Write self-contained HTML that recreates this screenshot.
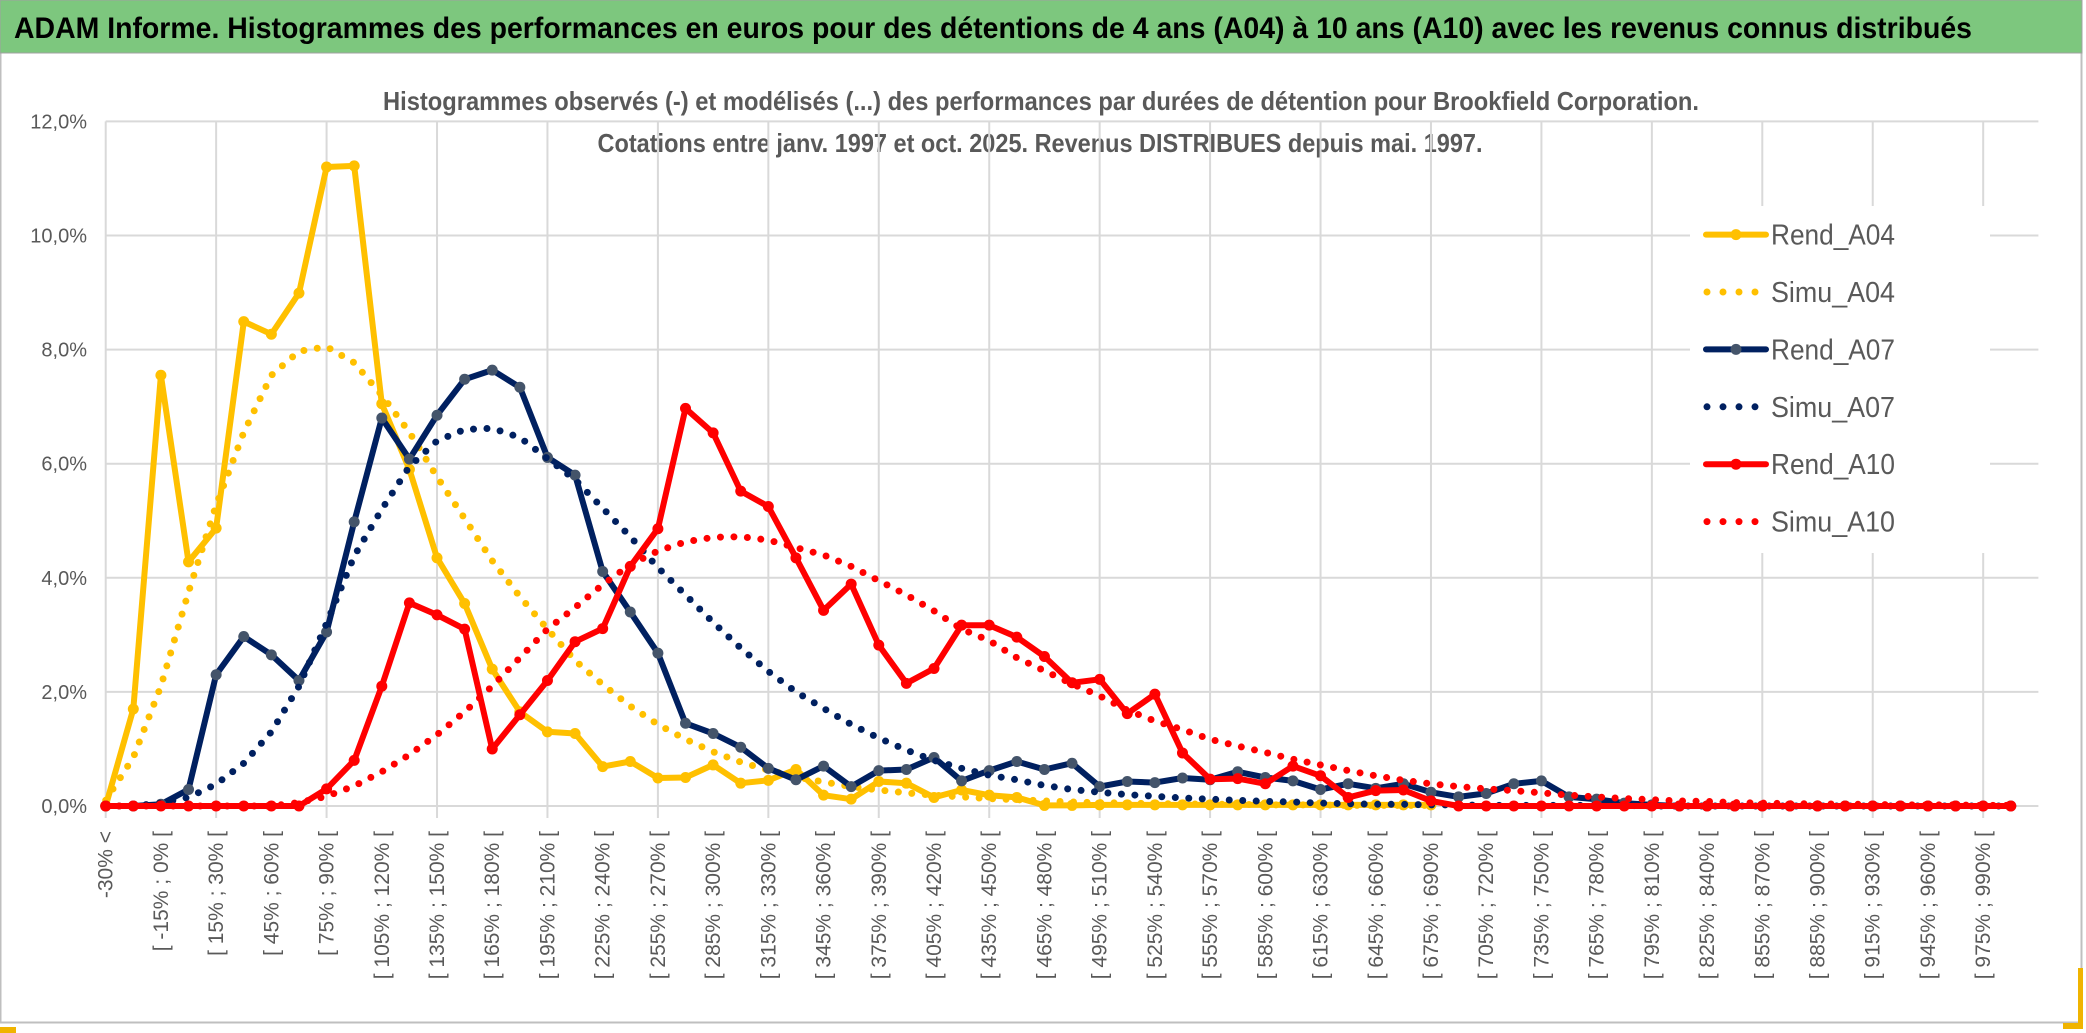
<!DOCTYPE html>
<html><head><meta charset="utf-8">
<style>
html,body{margin:0;padding:0;background:#fff;}
svg{display:block;}
text{font-family:"Liberation Sans",sans-serif;}
</style></head>
<body>
<svg id="chart" width="2086" height="1033" viewBox="0 0 2086 1033" xmlns="http://www.w3.org/2000/svg">
  <rect x="0" y="0" width="2086" height="1033" fill="#ffffff"/>
  <rect x="0.5" y="0.5" width="2081" height="1022" fill="#fff" stroke="#bfbfbf" stroke-width="2"/>
  <rect x="0" y="0" width="2082" height="53" fill="#7dc77e" stroke="#a0a0a0" stroke-width="1"/>
  <text x="14" y="38" font-size="30" font-weight="bold" fill="#000" textLength="1958" lengthAdjust="spacingAndGlyphs">ADAM Informe. Histogrammes des performances en euros pour des détentions de 4 ans (A04) à 10 ans (A10) avec les revenus connus distribués</text>
  <text x="1041" y="110" font-size="26" font-weight="bold" fill="#595959" text-anchor="middle" textLength="1316" lengthAdjust="spacingAndGlyphs">Histogrammes observés (-) et modélisés (...) des performances par durées de détention pour Brookfield Corporation.</text>
  <text x="1040" y="152" font-size="26" font-weight="bold" fill="#595959" text-anchor="middle" textLength="885" lengthAdjust="spacingAndGlyphs">Cotations entre janv. 1997 et oct. 2025. Revenus DISTRIBUES depuis mai. 1997.</text>
  <g id="grid"></g>
  <g id="yaxis"></g>
  <g id="xaxis"></g>
  <g id="series"></g>
  <g id="legend"></g>
  <rect x="2078" y="968" width="5" height="57" fill="#f0b400"/>
  <rect x="2063" y="1023" width="20" height="6" fill="#f0b400"/>
  <rect x="0" y="1027" width="16" height="6" fill="#f0b400"/>
</svg>
<script>
const yTicks = [0, 2, 4, 6, 8, 10, 12];
const yTickLabels = ["0,0%", "2,0%", "4,0%", "6,0%", "8,0%", "10,0%", "12,0%"];
const categoryCount = 70;
const rendA04 = [0,1.7,7.55,4.28,4.87,8.49,8.27,8.99,11.2,11.22,7.05,5.9,4.35,3.55,2.4,1.65,1.3,1.27,0.69,0.78,0.49,0.5,0.72,0.4,0.45,0.64,0.19,0.12,0.43,0.4,0.15,0.28,0.19,0.15,0.01,0.01,0.02,0.02,0.02,0.02,0.02,0.02,0.02,0.02,0.02,0.02,0.02,0.02,0.02];
const simuA04 = [0.1,0.85,2.1,3.75,5.27,6.55,7.55,7.97,8.05,7.77,7.2,6.55,5.77,5.04,4.3,3.67,3.1,2.55,2.13,1.75,1.43,1.17,0.95,0.77,0.63,0.51,0.42,0.34,0.28,0.23,0.19,0.16,0.13,0.11,0.09,0.07,0.06,0.05,0.04,0.04,0.03,0.03,0.02,0.02,0.02,0.01,0.01,0.01,0.01];
const rendA07 = [0,0,0.03,0.29,2.3,2.97,2.65,2.2,3.05,4.98,6.8,6.08,6.85,7.48,7.64,7.34,6.11,5.8,4.11,3.4,2.68,1.45,1.27,1.03,0.66,0.46,0.7,0.34,0.62,0.64,0.85,0.44,0.62,0.78,0.64,0.75,0.34,0.43,0.41,0.49,0.46,0.6,0.5,0.44,0.29,0.39,0.31,0.39,0.24,0.16,0.22,0.39,0.44,0.16,0.12,0.05,0.02,0,0,0,0,0,0,0,0,0,0,0,0,0];
const simuA07 = [0,0,0.05,0.15,0.38,0.75,1.3,2.1,3.2,4.38,5.2,5.95,6.4,6.6,6.62,6.46,6.09,5.72,5.22,4.72,4.18,3.7,3.22,2.77,2.36,2.0,1.71,1.43,1.19,0.98,0.8,0.66,0.54,0.46,0.36,0.29,0.24,0.2,0.17,0.14,0.12,0.1,0.08,0.07,0.05,0.04,0.03,0.03,0.02,0.02,0.01,0.01,0.01,0.01,0.01,0.01,0,0,0,0,0,0,0,0,0,0,0,0,0,0];
const rendA10 = [0,0,0,0,0,0,0,0,0.3,0.8,2.1,3.56,3.35,3.1,1.0,1.6,2.2,2.88,3.11,4.2,4.86,6.97,6.54,5.52,5.25,4.35,3.43,3.89,2.82,2.15,2.41,3.17,3.17,2.96,2.62,2.16,2.22,1.62,1.96,0.93,0.47,0.48,0.39,0.7,0.53,0.15,0.27,0.28,0.09,0,0,0,0,0,0,0,0,0,0,0,0,0,0,0,0,0,0,0,0,0];
const simuA10 = [0,0,0,0,0,0,0,0.06,0.17,0.35,0.6,0.9,1.25,1.65,2.1,2.6,3.1,3.48,3.88,4.23,4.47,4.63,4.71,4.72,4.66,4.53,4.4,4.2,3.95,3.7,3.42,3.1,2.9,2.6,2.37,2.14,1.93,1.68,1.49,1.34,1.17,1.05,0.94,0.82,0.72,0.62,0.53,0.45,0.39,0.34,0.3,0.27,0.23,0.19,0.16,0.13,0.11,0.09,0.08,0.06,0.05,0.04,0.04,0.03,0.03,0.02,0.02,0.02,0.01,0.01];
const legendLabels = ["Rend_A04", "Simu_A04", "Rend_A07", "Simu_A07", "Rend_A10", "Simu_A10"];

const NS = "http://www.w3.org/2000/svg";
const X0 = 105.7, DX = 27.61, Y0 = 806, PPU = 57.05;
function xPos(i) { return X0 + DX * i; }
function yPos(v) { return Y0 - v * PPU; }
function mk(tag, attrs, parent) {
  const e = document.createElementNS(NS, tag);
  for (const k in attrs) e.setAttribute(k, attrs[k]);
  parent.appendChild(e);
  return e;
}
function catLabel(i) {
  if (i === 0) return "-30% <";
  const lo = -30 + 15 * (i - 1);
  return "[ " + lo + "% ; " + (lo + 15) + "% [";
}

const grid = document.getElementById("grid");
const xRight = xPos(categoryCount);
yTicks.forEach(function (t) {
  const l = mk("line", {x1: X0, x2: xRight, y1: yPos(t), y2: yPos(t), stroke: "#d9d9d9", "stroke-width": 2}, grid);
  
  
});
for (let i = 0; i <= 68; i += 4) {
  const l = mk("line", {x1: xPos(i), x2: xPos(i), y1: yPos(12), y2: Y0 + 12, stroke: "#d9d9d9", "stroke-width": 2}, grid);
  
  
}

const yaxis = document.getElementById("yaxis");
yTicks.forEach(function (t, k) {
  const tx = mk("text", {x: 87, y: yPos(t) + 7, "font-size": 20, fill: "#595959", "text-anchor": "end"}, yaxis);
  tx.textContent = yTickLabels[k];
  
  
});

const xaxis = document.getElementById("xaxis");
for (let i = 0; i < categoryCount; i += 2) {
  const x = xPos(i) + 7, y = 831;
  const tx = mk("text", {x: x, y: y, "font-size": 21, fill: "#595959", "text-anchor": "end", transform: "rotate(-90 " + x + " " + y + ")"}, xaxis);
  tx.textContent = catLabel(i);
  
  
}

const seriesG = document.getElementById("series");
function pathD(arr) {
  return arr.map(function (v, i) { return (i ? "L" : "M") + xPos(i).toFixed(1) + " " + yPos(v).toFixed(1); }).join(" ");
}
function solidSeries(arr, color, mcolor, name) {
  const g = mk("g", {}, seriesG);
  
  
  const p = mk("path", {d: pathD(arr), fill: "none", stroke: color, "stroke-width": 6, "stroke-linejoin": "round", "stroke-linecap": "round"}, g);
  
  
  arr.forEach(function (v, i) {
    const c = mk("circle", {cx: xPos(i), cy: yPos(v), r: 5.5, fill: mcolor}, g);
    
    
  });
}
function dottedSeries(arr, color, name) {
  const p = mk("path", {d: pathD(arr), fill: "none", stroke: color, "stroke-width": 7, "stroke-dasharray": "0 13.5", "stroke-linecap": "round", "stroke-linejoin": "round"}, seriesG);
  
  
}
solidSeries(rendA04, "#ffc000", "#ffc000", "rend-a04");
dottedSeries(simuA04, "#ffc000", "simu-a04");
solidSeries(rendA07, "#002060", "#44546a", "rend-a07");
dottedSeries(simuA07, "#002060", "simu-a07");
solidSeries(rendA10, "#ff0000", "#ff0000", "rend-a10");
dottedSeries(simuA10, "#ff0000", "simu-a10");

const legend = document.getElementById("legend");
const bg = mk("rect", {x: 1690, y: 206, width: 300, height: 347, fill: "#fff"}, legend);


const legendColors = ["#ffc000", "#ffc000", "#002060", "#002060", "#ff0000", "#ff0000"];
const legendMarker = ["#ffc000", null, "#44546a", null, "#ff0000", null];
legendLabels.forEach(function (lab, k) {
  const y = 234.6 + k * 57.4;
  const g = mk("g", {}, legend);
  
  
  if (k % 2 === 0) {
    mk("line", {x1: 1706, x2: 1766, y1: y, y2: y, stroke: legendColors[k], "stroke-width": 6, "stroke-linecap": "round"}, g);
    mk("circle", {cx: 1736, cy: y, r: 5.5, fill: legendMarker[k]}, g);
  } else {
    mk("line", {x1: 1707, x2: 1767, y1: y, y2: y, stroke: legendColors[k], "stroke-width": 7, "stroke-dasharray": "0 16", "stroke-linecap": "round"}, g);
  }
  const t = mk("text", {x: 1771, y: y + 10, "font-size": 29, fill: "#595959", textLength: 124, lengthAdjust: "spacingAndGlyphs"}, g);
  t.textContent = lab;
  
  
});
</script>
</body></html>
